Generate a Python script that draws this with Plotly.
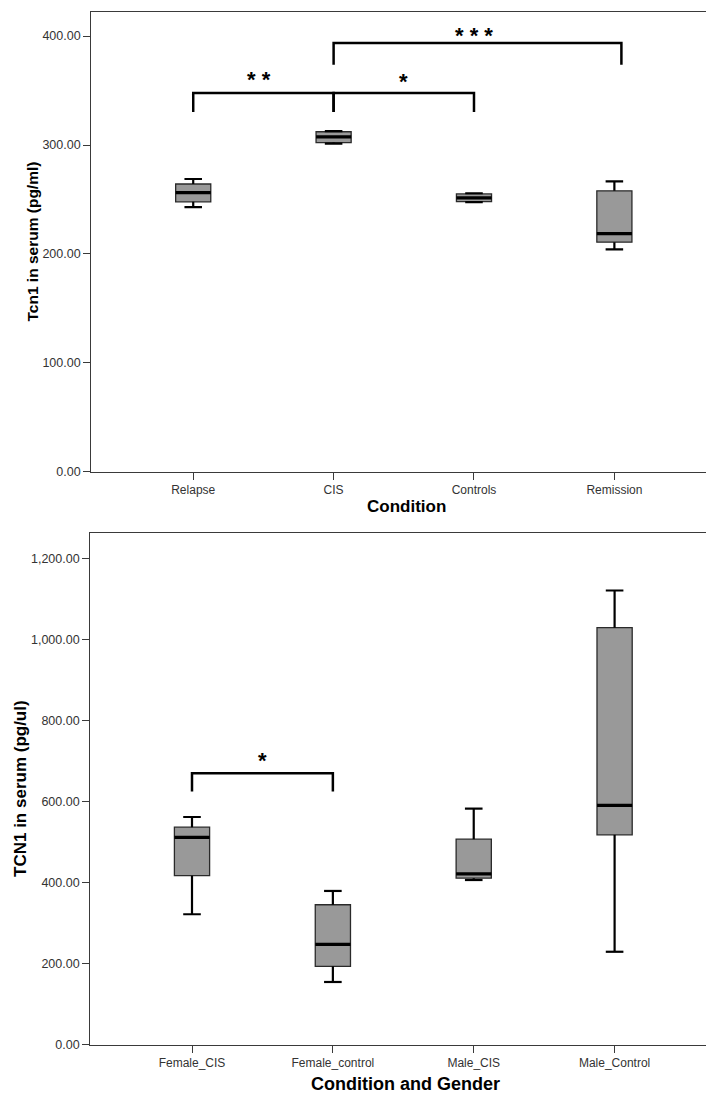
import plotly.graph_objects as go

# ---------------- data ----------------
top_categories = ["Relapse", "CIS", "Controls", "Remission"]
top_lower = [243.0, 301.3, 247.5, 204.1]
top_q1 = [247.8, 302.2, 248.1, 210.8]
top_median = [256.3, 307.4, 251.5, 218.7]
top_q3 = [264.2, 312.2, 255.1, 257.9]
top_upper = [268.8, 312.8, 255.7, 266.7]
top_yticks = [0, 100, 200, 300, 400]

bottom_categories = ["Female_CIS", "Female_control", "Male_CIS", "Male_Control"]
bottom_lower = [321.8, 154.6, 406.3, 229.2]
bottom_q1 = [417.1, 193.3, 410.8, 517.8]
bottom_median = [511.5, 247.2, 421.6, 590.6]
bottom_q3 = [536.6, 345.2, 507.0, 1029.2]
bottom_upper = [561.8, 379.3, 582.5, 1120.9]
bottom_yticks = [0, 200, 400, 600, 800, 1000, 1200]

# significance brackets: (left category index, right category index, bar level, tick end level, label)
top_brackets = [(0, 1, 347.8, 330.4, "* *"), (1, 2, 347.8, 330.4, "*"), (1, 3.05, 393.6, 373.6, "* * *")]
top_star_x = [0.47, 1.5, 2.0]
top_star_levels = [360.0, 358.0, 400.5]
bottom_brackets = [(0, 1, 669.7, 624.7, "*")]
bottom_star_x = [0.5]
bottom_star_levels = [701.0]

# ---------------- style ----------------
W, H = 714, 1094
FONT = "Liberation Sans, Arial, sans-serif"
BOX_FILL = "#999999"
AX_COLOR = "#3a3a3a"
TICK_COLOR = "#333333"
BOX_W = 0.25
CAP_W = 0.125


def px_x(p):
    return p / W


def px_y(p):
    return 1 - p / H


fig = go.Figure()


def add_panel(xref, yref, cats, lo, q1, med, q3, hi, brackets, star_x, star_levels):
    pos = list(range(len(cats)))
    # whiskers (thick black), drawn below the box
    for p, l, a, b, h in zip(pos, lo, q1, q3, hi):
        fig.add_trace(go.Scatter(
            x=[p, p, None, p, p, None, p - CAP_W / 2, p + CAP_W / 2, None, p - CAP_W / 2, p + CAP_W / 2],
            y=[b, h, None, a, l, None, h, h, None, l, l], mode="lines",
            line=dict(color="black", width=2.2), xaxis=xref, yaxis=yref,
            showlegend=False, hoverinfo="skip",
        ))
    # boxes with thin outline, no whiskers of their own
    fig.add_trace(go.Box(
        x=pos, q1=q1, median=med, q3=q3, lowerfence=q1, upperfence=q3,
        width=BOX_W, whiskerwidth=0, boxpoints=False,
        fillcolor=BOX_FILL, line=dict(color="#2a2a2a", width=1.3),
        xaxis=xref, yaxis=yref, showlegend=False, hoverinfo="skip",
    ))
    # thick median lines
    for p, m in zip(pos, med):
        fig.add_trace(go.Scatter(
            x=[p - BOX_W / 2, p + BOX_W / 2], y=[m, m], mode="lines",
            line=dict(color="black", width=3.2), xaxis=xref, yaxis=yref,
            showlegend=False, hoverinfo="skip",
        ))
    # significance brackets
    for (a, b, lvl, end, lab), sx, sl in zip(brackets, star_x, star_levels):
        fig.add_trace(go.Scatter(
            x=[a, a, b, b], y=[end, lvl, lvl, end], mode="lines",
            line=dict(color="black", width=2.5), xaxis=xref, yaxis=yref,
            showlegend=False, hoverinfo="skip",
        ))
        fig.add_annotation(
            x=sx, y=sl, xref=xref, yref=yref,
            text=lab, showarrow=False, yanchor="middle",
            font=dict(family=FONT, size=22, color="black", weight="bold"),
        )


add_panel("x", "y", top_categories, top_lower, top_q1, top_median, top_q3, top_upper,
          top_brackets, top_star_x, top_star_levels)
add_panel("x2", "y2", bottom_categories, bottom_lower, bottom_q1, bottom_median, bottom_q3,
          bottom_upper, bottom_brackets, bottom_star_x, bottom_star_levels)

axis_common = dict(
    showgrid=False, zeroline=False, showline=True, mirror=True,
    linecolor=AX_COLOR, linewidth=1.3, ticks="outside", ticklen=7,
    tickwidth=1.3, tickcolor=AX_COLOR,
)

fig.update_layout(
    width=W, height=H, margin=dict(l=0, r=0, t=0, b=0),
    plot_bgcolor="white", paper_bgcolor="white", showlegend=False,
    xaxis=dict(domain=[px_x(83.3), px_x(708.3)], range=[-0.726, 3.726],
               tickvals=list(range(len(top_categories))), ticktext=top_categories,
               tickfont=dict(family=FONT, size=12, color=TICK_COLOR), anchor="y",
               **axis_common),
    yaxis=dict(domain=[px_y(466.7), px_y(4.3)], range=[0, 421.9],
               tickvals=top_yticks, tickformat=",.2f",
               tickfont=dict(family=FONT, size=12.5, color=TICK_COLOR), anchor="x",
               **axis_common),
    xaxis2=dict(domain=[px_x(82.3), px_x(708.3)], range=[-0.722, 3.722],
                tickvals=list(range(len(bottom_categories))), ticktext=bottom_categories,
                tickfont=dict(family=FONT, size=12, color=TICK_COLOR), anchor="y2",
                **axis_common),
    yaxis2=dict(domain=[px_y(1043.3), px_y(528.3)], range=[0, 1263],
                tickvals=bottom_yticks, tickformat=",.2f",
                tickfont=dict(family=FONT, size=12.5, color=TICK_COLOR), anchor="x2",
                **axis_common),
)

# axis titles
fig.add_annotation(x=px_x(398), y=px_y(501.7), xref="paper", yref="paper",
                   text="Condition", showarrow=False, xanchor="center", yanchor="middle",
                   font=dict(family=FONT, size=17, color="black", weight="bold"))
fig.add_annotation(x=px_x(24.5), y=px_y(235.5), xref="paper", yref="paper",
                   text="Tcn1 in serum (pg/ml)", showarrow=False, textangle=-90,
                   xanchor="center", yanchor="middle",
                   font=dict(family=FONT, size=15.5, color="black", weight="bold"))
fig.add_annotation(x=px_x(397.6), y=px_y(1082.7), xref="paper", yref="paper",
                   text="Condition and Gender", showarrow=False, xanchor="center", yanchor="middle",
                   font=dict(family=FONT, size=18, color="black", weight="bold"))
fig.add_annotation(x=px_x(12.5), y=px_y(785.5), xref="paper", yref="paper",
                   text="TCN1 in serum (pg/ul)", showarrow=False, textangle=-90,
                   xanchor="center", yanchor="middle",
                   font=dict(family=FONT, size=17, color="black", weight="bold"))

fig.write_html("out.html")
